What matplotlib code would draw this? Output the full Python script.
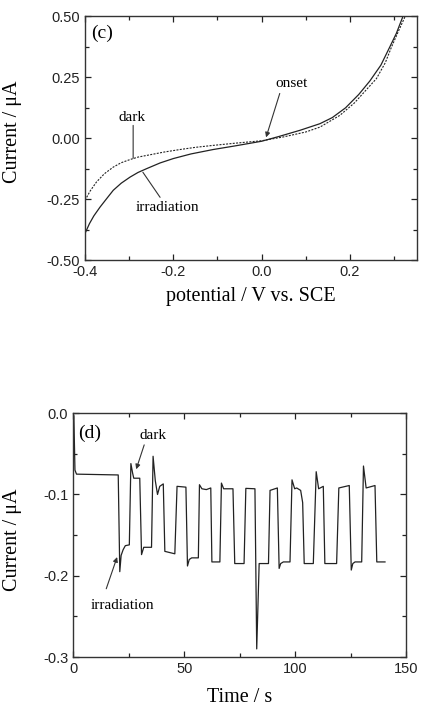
import numpy as np
import matplotlib
matplotlib.use("Agg")
import matplotlib.pyplot as plt
from matplotlib.ticker import MultipleLocator, FormatStrFormatter

plt.rcParams['axes.unicode_minus'] = False
plt.rcParams['font.family'] = ['Liberation Sans', 'DejaVu Sans']

# panel (c): current-potential curves
v_irr = [-0.400, -0.390, -0.380, -0.366, -0.350, -0.336, -0.318, -0.298, -0.280, -0.260,
         -0.230, -0.200, -0.160, -0.110, -0.060, 0.000, 0.040, 0.087, 0.132, 0.160,
         0.190, 0.220, 0.245, 0.270, 0.290, 0.305, 0.320]
i_irr = [-0.390, -0.350, -0.318, -0.282, -0.245, -0.213, -0.184, -0.159, -0.140, -0.124,
         -0.101, -0.083, -0.064, -0.046, -0.031, -0.012, 0.008, 0.033, 0.060, 0.085,
         0.125, 0.180, 0.235, 0.300, 0.374, 0.430, 0.500]

v_dark = [-0.400, -0.388, -0.374, -0.356, -0.336, -0.318, -0.298, -0.280, -0.260, -0.220,
          -0.185, -0.150, -0.110, -0.060, 0.000, 0.050, 0.100, 0.132, 0.177, 0.210,
          0.240, 0.260, 0.280, 0.294, 0.310, 0.325]
i_dark = [-0.254, -0.215, -0.179, -0.145, -0.118, -0.100, -0.087, -0.077, -0.070, -0.056,
          -0.046, -0.037, -0.029, -0.020, -0.010, 0.006, 0.026, 0.046, 0.094, 0.145,
          0.205, 0.245, 0.310, 0.374, 0.440, 0.500]

# panel (d): chopped-light transient
t = [0, 0.3, 0.8, 1.5, 20.3, 21.0, 21.6, 22.5, 23.5, 25.3,
     26.0, 26.8, 27.3, 30.0, 30.8, 31.8, 35.3, 36.0, 37.0, 38.0,
     39.0, 40.6, 41.3, 45.8, 46.8, 50.8, 51.5, 52.3, 53.4, 56.4,
     56.9, 58.0, 60.0, 62.0, 62.5, 66.1, 66.8, 67.8, 72.0, 72.8,
     77.0, 77.8, 81.9, 82.7, 83.8, 88.0, 88.7, 92.0, 92.8, 93.5,
     94.7, 97.7, 98.6, 99.8, 100.7, 102.5, 103.4, 104.1, 108.2, 109.5,
     110.6, 112.7, 113.4, 118.7, 119.7, 124.4, 125.3, 126.0, 127.0, 130.0,
     130.8, 132.0, 136.0, 136.8, 140.5]
i_t = [-0.075, -0.003, -0.070, -0.075, -0.076, -0.195, -0.175, -0.168, -0.163, -0.162,
       -0.062, -0.074, -0.080, -0.080, -0.174, -0.165, -0.165, -0.053, -0.083, -0.100,
       -0.090, -0.087, -0.170, -0.173, -0.090, -0.091, -0.188, -0.180, -0.178, -0.178,
       -0.088, -0.093, -0.094, -0.092, -0.183, -0.183, -0.086, -0.093, -0.093, -0.185,
       -0.185, -0.0925, -0.093, -0.290, -0.185, -0.185, -0.095, -0.092, -0.191, -0.185,
       -0.183, -0.183, -0.082, -0.093, -0.092, -0.095, -0.110, -0.185, -0.185, -0.072,
       -0.093, -0.090, -0.185, -0.185, -0.092, -0.089, -0.193, -0.185, -0.183, -0.183,
       -0.065, -0.092, -0.089, -0.183, -0.183]

serif = ['Liberation Serif', 'DejaVu Serif']
LINE = '#222222'


def StyleAxes(ax):
    ax.tick_params(which='both', direction='in', top=True, right=True,
                   labelsize=10.5, width=0.9, colors='#222222')
    ax.tick_params(which='major', length=4.5)
    ax.tick_params(which='minor', length=3)
    for s in ax.spines.values():
        s.set_linewidth(1.0)
        s.set_color('#333333')


def Pointer(ax, start, end, head=True):
    style = '-|>' if head else '-'
    ax.annotate('', xy=end, xytext=start,
                arrowprops=dict(arrowstyle=style, color='#333333', lw=0.8,
                                mutation_scale=7, shrinkA=0, shrinkB=0))


def Label(ax, x, y, s, size=11):
    ax.text(x, y, s, family=serif, fontsize=size, ha='center', va='center')


fig = plt.figure(figsize=(4.23, 7.13), dpi=100)

# ---- panel (c)
ax = fig.add_axes([0.201, 0.635, 0.785, 0.342])
ax.plot(v_irr, i_irr, color=LINE, lw=0.9)
ax.plot(v_dark, i_dark, color=LINE, lw=0.8, linestyle=(0, (1.8, 1.2)))
ax.set_xlim(-0.4, 0.352)
ax.set_ylim(-0.5, 0.5)
ax.xaxis.set_major_locator(MultipleLocator(0.2))
ax.xaxis.set_minor_locator(MultipleLocator(0.1))
ax.yaxis.set_major_locator(MultipleLocator(0.25))
ax.yaxis.set_minor_locator(MultipleLocator(0.125))
ax.xaxis.set_major_formatter(FormatStrFormatter('%.1f'))
ax.yaxis.set_major_formatter(FormatStrFormatter('%.2f'))
StyleAxes(ax)
ax.set_xlabel('potential / V vs. SCE', family=serif, fontsize=14.5)
ax.set_ylabel('Current / \u03bcA', family=serif, fontsize=14.5)
ax.xaxis.set_label_coords(0.5, -0.111)
ax.yaxis.set_label_coords(-0.19, 0.529)
Label(ax, -0.362, 0.43, '(c)', size=14)
Label(ax, -0.294, 0.086, 'dark')
Pointer(ax, (-0.291, 0.053), (-0.291, -0.082), head=False)
Label(ax, -0.214, -0.283, 'irradiation')
Pointer(ax, (-0.230, -0.242), (-0.269, -0.139), head=False)
Label(ax, 0.068, 0.225, 'onset')
Pointer(ax, (0.041, 0.184), (0.010, 0.004))

# ---- panel (d)
ax2 = fig.add_axes([0.173, 0.0785, 0.787, 0.342])
ax2.plot(t, i_t, color=LINE, lw=0.9)
ax2.set_xlim(0, 150)
ax2.set_ylim(-0.3, 0.0)
ax2.xaxis.set_major_locator(MultipleLocator(50))
ax2.xaxis.set_minor_locator(MultipleLocator(25))
ax2.yaxis.set_major_locator(MultipleLocator(0.1))
ax2.yaxis.set_minor_locator(MultipleLocator(0.05))
ax2.xaxis.set_major_formatter(FormatStrFormatter('%d'))
ax2.yaxis.set_major_formatter(FormatStrFormatter('%.1f'))
StyleAxes(ax2)
ax2.set_xlabel('Time / s', family=serif, fontsize=14.5)
ax2.set_ylabel('Current / \u03bcA', family=serif, fontsize=14.5)
ax2.xaxis.set_label_coords(0.5, -0.127)
ax2.yaxis.set_label_coords(-0.153, 0.48)
Label(ax2, 7.2, -0.0246, '(d)', size=14)
Label(ax2, 36, -0.028, 'dark')
Pointer(ax2, (32, -0.039), (28.4, -0.069))
Label(ax2, 22, -0.237, 'irradiation')
Pointer(ax2, (14.9, -0.216), (19.8, -0.177))

plt.savefig('out.png', dpi=100)
